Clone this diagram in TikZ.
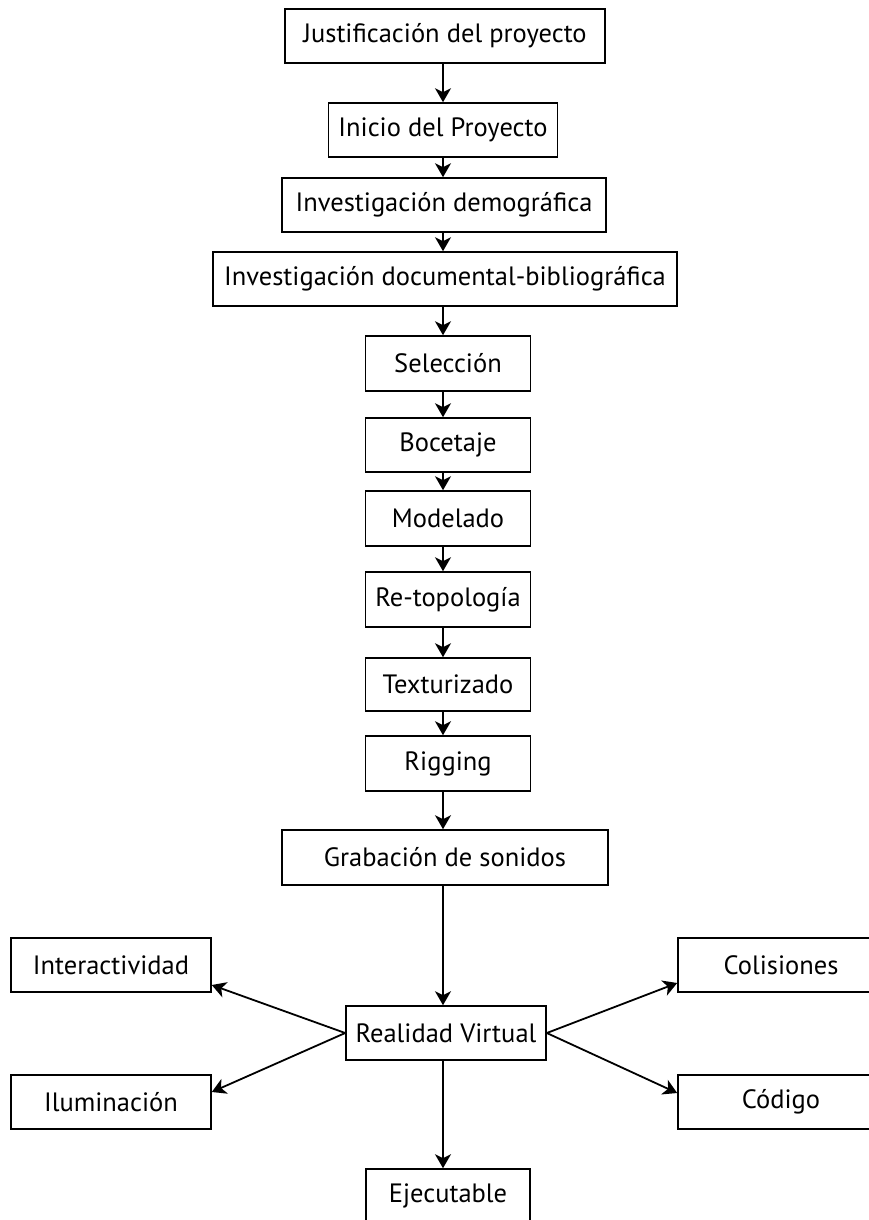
\documentclass[tikz,border=0pt]{standalone}
\usepackage{fontspec}
\setmainfont{PT Sans}
\usetikzlibrary{arrows.meta}
\begin{document}
\begin{tikzpicture}[x=1pt,y=-1pt,
  box/.style={draw=black, line width=1.6pt, inner sep=0pt, minimum height=54pt, font=\fontsize{26.5}{30}\selectfont},
  arr/.style={line width=1.8pt, -{Stealth[length=14pt,width=16pt,inset=4pt]}}]
\useasboundingbox (0,0) rectangle (869,1220);
\clip (0,0) rectangle (869,1220);
\fill[white] (0,0) rectangle (869,1220);
\node[box, minimum width=320pt] (j) at (445,36) {Justificación del proyecto};
\node[box, minimum width=229pt] (ini) at (443,130) {Inicio del Proyecto};
\node[box, minimum width=324pt] (idem) at (444,205) {Investigación demográfica};
\node[box, minimum width=464pt] (idoc) at (445,279) {Investigación documental-bibliográfica};
\node[box, minimum width=165pt, minimum height=55pt] (sel) at (448,363.5) {Selección};
\node[box, minimum width=165pt] (boc) at (448,445) {Bocetaje};
\node[box, minimum width=165pt, minimum height=55pt] (mod) at (448,518.5) {Modelado};
\node[box, minimum width=165pt, minimum height=55pt] (ret) at (448,599.5) {Re-topología};
\node[box, minimum width=165pt, minimum height=53pt] (tex) at (448,684.5) {Texturizado};
\node[box, minimum width=165pt, minimum height=55pt] (rig) at (448,763.5) {Rigging};
\node[box, minimum width=326pt, minimum height=55pt] (gra) at (445,857.5) {Grabación de sonidos};
\node[box, minimum width=200pt] (rv) at (446,1033) {Realidad Virtual};
\node[box, minimum width=200pt] (inter) at (111,965) {Interactividad};
\node[box, minimum width=200pt] (ilum) at (111,1102) {Iluminación};
\node[box, minimum width=206pt] (col) at (781,965) {Colisiones};
\node[box, minimum width=206pt] (cod) at (781,1102) {Código};
\node[box, minimum width=164pt] (eje) at (448,1196) {Ejecutable};
\foreach \a/\b in {j/ini, ini/idem, idem/idoc, idoc/sel, sel/boc, boc/mod, mod/ret, ret/tex, tex/rig, rig/gra, gra/rv, rv/eje}
  \draw[arr] (\a.south -| 443,0) -- (\b.north -| 443,0);
\draw[arr] (rv.west) -- ([yshift=-20pt]inter.east);
\draw[arr] (rv.west) -- ([yshift=10pt]ilum.east);
\draw[arr] (rv.east) -- ([yshift=-18pt]col.west);
\draw[arr] (rv.east) -- ([yshift=9pt]cod.west);
\end{tikzpicture}
\end{document}
